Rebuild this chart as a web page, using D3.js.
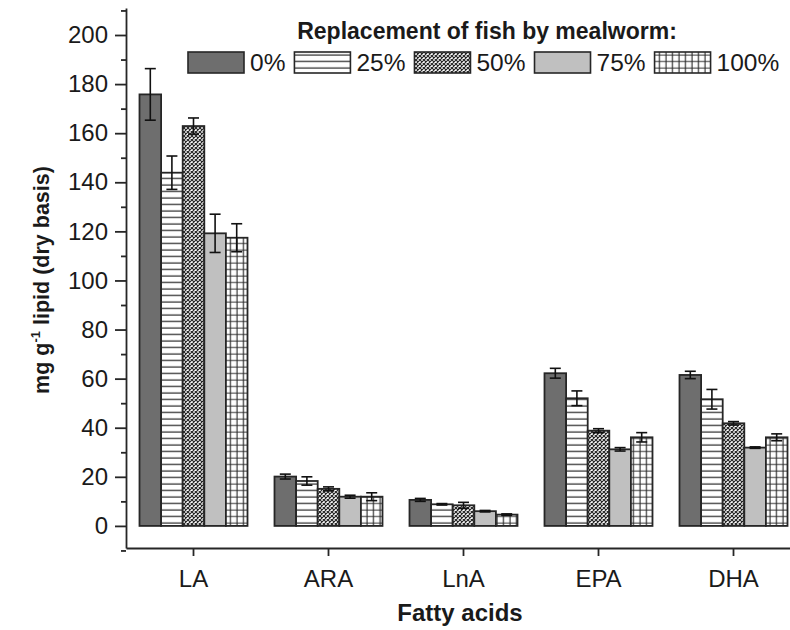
<!DOCTYPE html>
<html><head><meta charset="utf-8">
<script src="https://cdn.jsdelivr.net/npm/d3@7"></script>
<style>body{margin:0;background:#fff}svg{display:block;font-family:"Liberation Sans",Arial,sans-serif}</style>
</head><body>
<svg id="c" width="790" height="630"></svg>
<script>
const categories = ["LA","ARA","LnA","EPA","DHA"];
const seriesNames = ["0%","25%","50%","75%","100%"];
const values = [
  [175.8, 20.1, 10.6, 62.2, 61.5],
  [143.9, 18.3, 8.8, 52.0, 51.6],
  [162.9, 15.1, 8.4, 38.8, 41.8],
  [119.2, 11.9, 6.0, 31.2, 31.9],
  [117.4, 11.9, 4.6, 36.1, 36.1]
];
const errors = [
  [10.5, 1.0, 0.6, 2.0, 1.5],
  [6.8, 1.7, 0.3, 3.0, 4.0],
  [3.3, 0.8, 1.2, 0.8, 0.7],
  [7.8, 0.6, 0.3, 0.7, 0.3],
  [5.7, 1.6, 0.3, 1.9, 1.4]
];
const yTicks = [0,20,40,60,80,100,120,140,160,180,200];
const yMinorTicks = [-10,10,30,50,70,90,110,130,150,170,190,210];

const svg = d3.select("#c");
const defs = svg.append("defs");
const ink = "#262626";

function pat(id, size, draw){
  const p = defs.append("pattern").attr("id",id).attr("patternUnits","userSpaceOnUse")
    .attr("width",size).attr("height",size);
  draw(p);
}
pat("p25",6.5,p=>{
  p.append("rect").attr("width",6.5).attr("height",6.5).attr("fill","#fff");
  p.append("line").attr("x1",0).attr("x2",6.5).attr("y1",3).attr("y2",3).attr("stroke",ink).attr("stroke-width",1.2);
});
pat("p50",4,p=>{
  p.append("rect").attr("width",4).attr("height",4).attr("fill","#fff");
  p.append("path").attr("d","M0,0L4,4M4,0L0,4").attr("stroke",ink).attr("stroke-width",1.2);
});
pat("p100",6.5,p=>{
  p.append("rect").attr("width",6.5).attr("height",6.5).attr("fill","#fff");
  p.append("path").attr("d","M0,3H6.5M3,0V6.5").attr("stroke",ink).attr("stroke-width",1.1);
});
const fills = ["#6e6e6e","url(#p25)","url(#p50)","#c0c0c0","url(#p100)"];

const x = d3.scaleBand().domain(categories).range([126, 801]).padding(0);
const xs = d3.scaleBand().domain(seriesNames).range([13.5, x.bandwidth()-13.5]).padding(0);
const y = d3.scaleLinear().domain([-9, 211]).range([548, 8]);

// bars
seriesNames.forEach((s, si) => {
  const g = svg.append("g");
  categories.forEach((c, ci) => {
    const v = values[si][ci];
    g.append("rect")
      .attr("x", x(c) + xs(s))
      .attr("y", y(v))
      .attr("width", xs.bandwidth())
      .attr("height", y(0) - y(v))
      .attr("fill", fills[si])
      .attr("stroke", ink).attr("stroke-width", 1.8);
  });
});
// error bars
seriesNames.forEach((s, si) => {
  categories.forEach((c, ci) => {
    const v = values[si][ci], e = errors[si][ci];
    const cx = x(c) + xs(s) + xs.bandwidth()/2;
    const g = svg.append("g").attr("stroke","#111").attr("stroke-width",1.6);
    g.append("line").attr("x1",cx).attr("x2",cx).attr("y1",y(v+e)).attr("y2",y(v-e));
    g.append("line").attr("x1",cx-5.5).attr("x2",cx+5.5).attr("y1",y(v+e)).attr("y2",y(v+e));
    g.append("line").attr("x1",cx-5.5).attr("x2",cx+5.5).attr("y1",y(v-e)).attr("y2",y(v-e));
  });
});

// y axis
const yAxis = d3.axisLeft(y).tickValues(yTicks).tickSize(11).tickPadding(7).tickSizeOuter(0);
const ya = svg.append("g").attr("transform","translate(126,0)").call(yAxis);
ya.select(".domain").attr("stroke",ink).attr("stroke-width",1.8);
ya.selectAll(".tick line").attr("stroke",ink).attr("stroke-width",1.8);
ya.selectAll("text").attr("font-size",24).attr("fill","#1a1a1a");
const yMinor = d3.axisLeft(y).tickValues(yMinorTicks).tickSize(5).tickFormat("").tickSizeOuter(0);
const ym = svg.append("g").attr("transform","translate(126,0)").call(yMinor);
ym.select(".domain").remove();
ym.selectAll(".tick line").attr("stroke",ink).attr("stroke-width",1.8);

// x axis
const xAxis = d3.axisBottom(x).tickSize(8).tickPadding(14).tickSizeOuter(0);
const xa = svg.append("g").attr("transform","translate(0,548)").call(xAxis);
xa.select(".domain").attr("stroke",ink).attr("stroke-width",1.8);
xa.selectAll(".tick line").attr("stroke",ink).attr("stroke-width",1.8);
xa.selectAll("text").attr("font-size",24).attr("fill","#1a1a1a");

// axis titles
svg.append("text").attr("x",460).attr("y",621).attr("text-anchor","middle")
  .attr("font-size",24).attr("font-weight","bold").attr("fill","#1a1a1a").text("Fatty acids");
const yt = svg.append("text").attr("transform","translate(49,280) rotate(-90)")
  .attr("text-anchor","middle").attr("font-size",21.5).attr("font-weight","bold").attr("fill","#1a1a1a");
yt.append("tspan").text("mg g");
yt.append("tspan").attr("dy",-9).attr("font-size",13).text("-1");
yt.append("tspan").attr("dy",9).text(" lipid (dry basis)");

// legend
svg.append("text").attr("x",487).attr("y",39).attr("text-anchor","middle")
  .attr("font-size",23).attr("font-weight","bold").attr("fill","#1a1a1a").text("Replacement of fish by mealworm:");
let lx = 188;
seriesNames.forEach((s, si) => {
  svg.append("rect").attr("x",lx).attr("y",52).attr("width",56).attr("height",21)
    .attr("fill",fills[si]).attr("stroke",ink).attr("stroke-width",1.6);
  const t = svg.append("text").attr("x",lx+62).attr("y",71).attr("font-size",24.5).attr("fill","#1a1a1a").text(s);
  lx = lx + 62 + t.node().getComputedTextLength() + 9;
});
</script>
</body></html>
